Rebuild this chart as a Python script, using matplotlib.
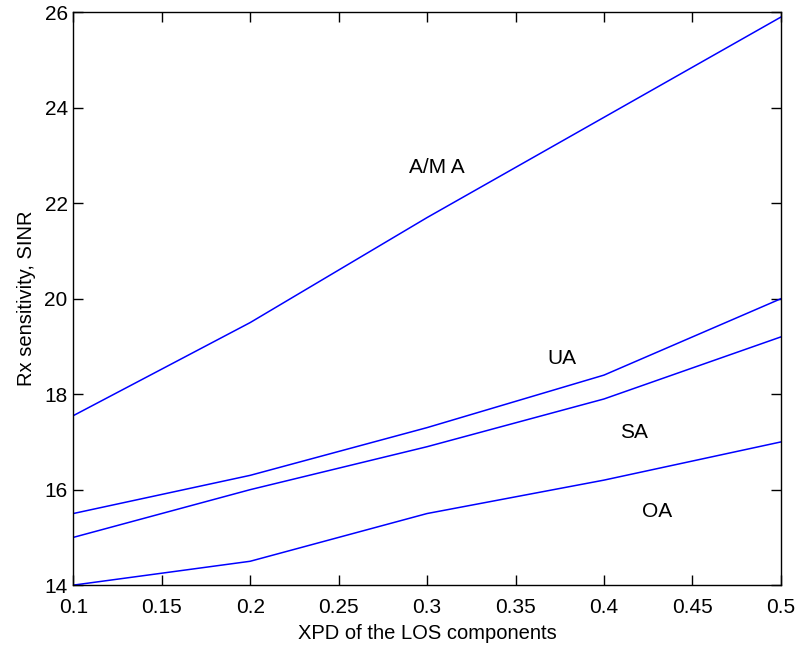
import matplotlib
matplotlib.use('Agg')
import matplotlib.pyplot as plt

plt.rcParams['font.family'] = ['Liberation Sans', 'DejaVu Sans']

xpd = [0.1, 0.2, 0.3, 0.4, 0.5]
sinr_ama = [17.55, 19.5, 21.7, 23.8, 25.9]
sinr_ua = [15.5, 16.3, 17.3, 18.4, 20.0]
sinr_sa = [15.0, 16.0, 16.9, 17.9, 19.2]
sinr_oa = [14.0, 14.5, 15.5, 16.2, 17.0]

labels = ['A/M A', 'UA', 'SA', 'OA']
label_pos = [(0.29, 22.75), (0.368, 18.75), (0.409, 17.2), (0.4215, 15.55)]

fig = plt.figure(figsize=(7.96, 6.48), dpi=100)
ax = fig.add_axes([0.092, 0.097, 0.889, 0.884])

for s in [sinr_ama, sinr_ua, sinr_sa, sinr_oa]:
    ax.plot(xpd, s, color='#0000ff', linewidth=1.1)

for lab, (tx, ty) in zip(labels, label_pos):
    ax.text(tx, ty, lab, fontsize=15, va='center', ha='left')

ax.set_xlim(0.1, 0.5)
ax.set_ylim(14, 26)
ax.set_xticks([0.1, 0.15, 0.2, 0.25, 0.3, 0.35, 0.4, 0.45, 0.5])
ax.set_xticklabels(['0.1', '0.15', '0.2', '0.25', '0.3', '0.35', '0.4', '0.45', '0.5'])
ax.set_yticks([14, 16, 18, 20, 22, 24, 26])
ax.tick_params(direction='in', top=True, right=True, labelsize=15, length=7, width=1)
ax.tick_params(axis='x', pad=9)
ax.tick_params(axis='y', pad=4)
for sp in ax.spines.values():
    sp.set_linewidth(1.0)
ax.set_xlabel('XPD of the LOS components', fontsize=14.5, labelpad=5)
ax.set_ylabel('Rx sensitivity, SINR', fontsize=14.5, labelpad=6)

fig.savefig('out.png', dpi=100)
